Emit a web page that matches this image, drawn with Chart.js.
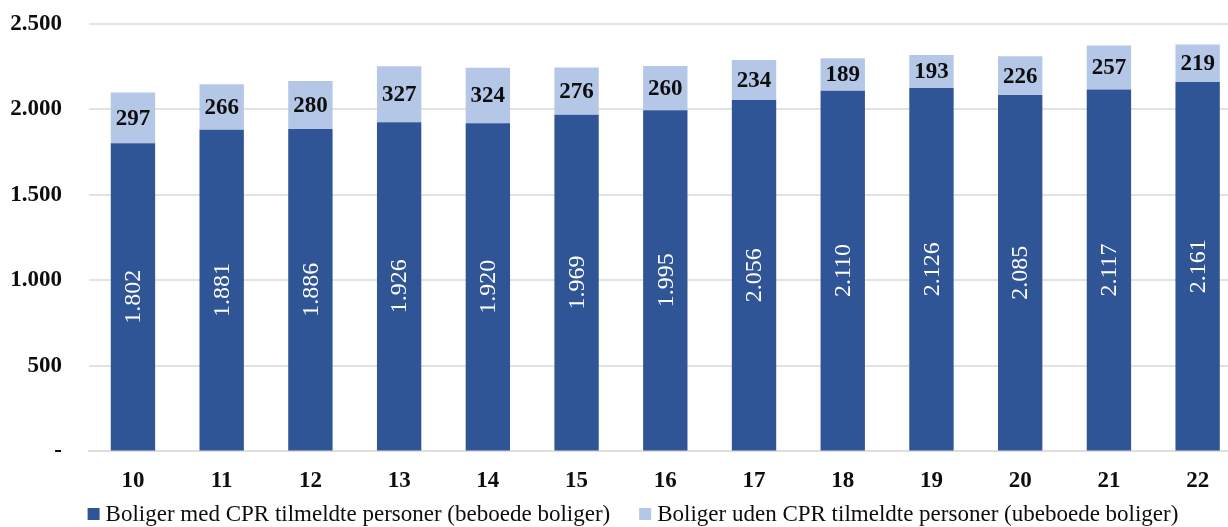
<!DOCTYPE html>
<html>
<head>
<meta charset="utf-8">
<script src="https://cdn.jsdelivr.net/npm/chart.js@4/dist/chart.umd.min.js"></script>
<style>
  html, body { margin: 0; padding: 0; background: #fff; overflow: hidden; }
  #wrap { width: 1228px; height: 527px; overflow: hidden; position: relative; }
  canvas { display: block; }
</style>
</head>
<body>
<div id="wrap"><canvas id="c" width="1242" height="527"></canvas></div>
<script>
// Year labels (20xx)
const categories = ['10', '11', '12', '13', '14', '15', '16', '17', '18', '19', '20', '21', '22'];
// Dwellings with CPR-registered residents
const occupied = [1802, 1881, 1886, 1926, 1920, 1969, 1995, 2056, 2110, 2126, 2085, 2117, 2161];
// Dwellings without CPR-registered residents
const vacant = [297, 266, 280, 327, 324, 276, 260, 234, 189, 193, 226, 257, 219];
const yTicks = [0, 500, 1000, 1500, 2000, 2500];

const SERIF = '"Liberation Serif", "DejaVu Serif", serif';

function fmt(n) {
  if (n === 0) return '-';
  return String(n).replace(/\B(?=(\d{3})+(?!\d))/g, '.');
}

// Value labels: rotated white numbers inside the dark bars, dark numbers in the light caps
const barLabels = {
  id: 'barLabels',
  afterDatasetsDraw(chart) {
    const ctx = chart.ctx;
    ctx.save();
    chart.data.datasets.forEach((ds, di) => {
      const meta = chart.getDatasetMeta(di);
      meta.data.forEach((bar, i) => {
        const v = ds.data[i];
        const cy = (bar.y + bar.base) / 2;
        ctx.textAlign = 'center';
        ctx.textBaseline = 'middle';
        if (di === 0) {
          ctx.save();
          ctx.translate(bar.x, cy);
          ctx.rotate(-Math.PI / 2);
          ctx.font = '24px ' + SERIF;
          ctx.fillStyle = '#ffffff';
          ctx.fillText(fmt(v), 0, 1);
          ctx.restore();
        } else {
          ctx.font = 'bold 23px ' + SERIF;
          ctx.fillStyle = '#0d0d0d';
          ctx.fillText(fmt(v), bar.x, cy + 1);
        }
      });
    });
    ctx.restore();
  }
};

// Legend row under the axis: square swatch + series name, items centred as a group
const legendRow = {
  id: 'legendRow',
  afterDraw(chart, args, opts) {
    const ctx = chart.ctx;
    const box = 12, gap = 6, itemGap = 29;
    ctx.save();
    ctx.font = opts.size + 'px ' + SERIF;
    ctx.textBaseline = 'middle';
    ctx.textAlign = 'left';
    const items = chart.data.datasets.map(ds => ({
      text: ds.label, color: ds.backgroundColor, w: ctx.measureText(ds.label).width
    }));
    const total = items.reduce((s, it) => s + box + gap + it.w, 0) + itemGap * (items.length - 1);
    let x = opts.centerX - total / 2;
    const y = opts.y;
    items.forEach(it => {
      ctx.fillStyle = it.color;
      ctx.fillRect(x, y - box / 2, box, box);
      x += box + gap;
      ctx.fillStyle = '#0d0d0d';
      ctx.fillText(it.text, x, y + 1);
      x += it.w + itemGap;
    });
    ctx.restore();
  }
};

new Chart(document.getElementById('c'), {
  type: 'bar',
  data: {
    labels: categories,
    datasets: [
      {
        label: 'Boliger med CPR tilmeldte personer (beboede boliger)',
        data: occupied,
        backgroundColor: '#2F5597',
        borderWidth: 0,
        barPercentage: 0.5,
        categoryPercentage: 1.0
      },
      {
        label: 'Boliger uden CPR tilmeldte personer (ubeboede boliger)',
        data: vacant,
        backgroundColor: '#B4C7E7',
        borderWidth: 0,
        barPercentage: 0.5,
        categoryPercentage: 1.0
      }
    ]
  },
  options: {
    responsive: false,
    animation: false,
    layout: { padding: { top: 24, left: 0, right: 0, bottom: 16 } },
    plugins: {
      tooltip: { enabled: false },
      legend: { display: false },
      legendRow: { size: 23, centerX: 633, y: 514 }
    },
    scales: {
      x: {
        stacked: true,
        grid: { display: false, drawTicks: false },
        border: { display: true, color: '#dedede', width: 2 },
        ticks: {
          padding: 16,
          color: '#0d0d0d',
          font: { family: SERIF, size: 23, weight: 'bold' }
        }
      },
      y: {
        stacked: true,
        min: 0,
        max: 2500,
        afterFit(scale) { scale.width = 88.6; },
        afterBuildTicks(scale) { scale.ticks = yTicks.map(v => ({ value: v })); },
        grid: { color: '#e2e2e2', lineWidth: 2, drawTicks: true, tickLength: 22, tickColor: 'rgba(0,0,0,0)' },
        border: { display: false },
        ticks: {
          padding: 4.6,
          color: '#0d0d0d',
          font: { family: SERIF, size: 23, weight: 'bold' },
          callback: v => fmt(v)
        }
      }
    }
  },
  plugins: [barLabels, legendRow]
});
</script>
</body>
</html>
